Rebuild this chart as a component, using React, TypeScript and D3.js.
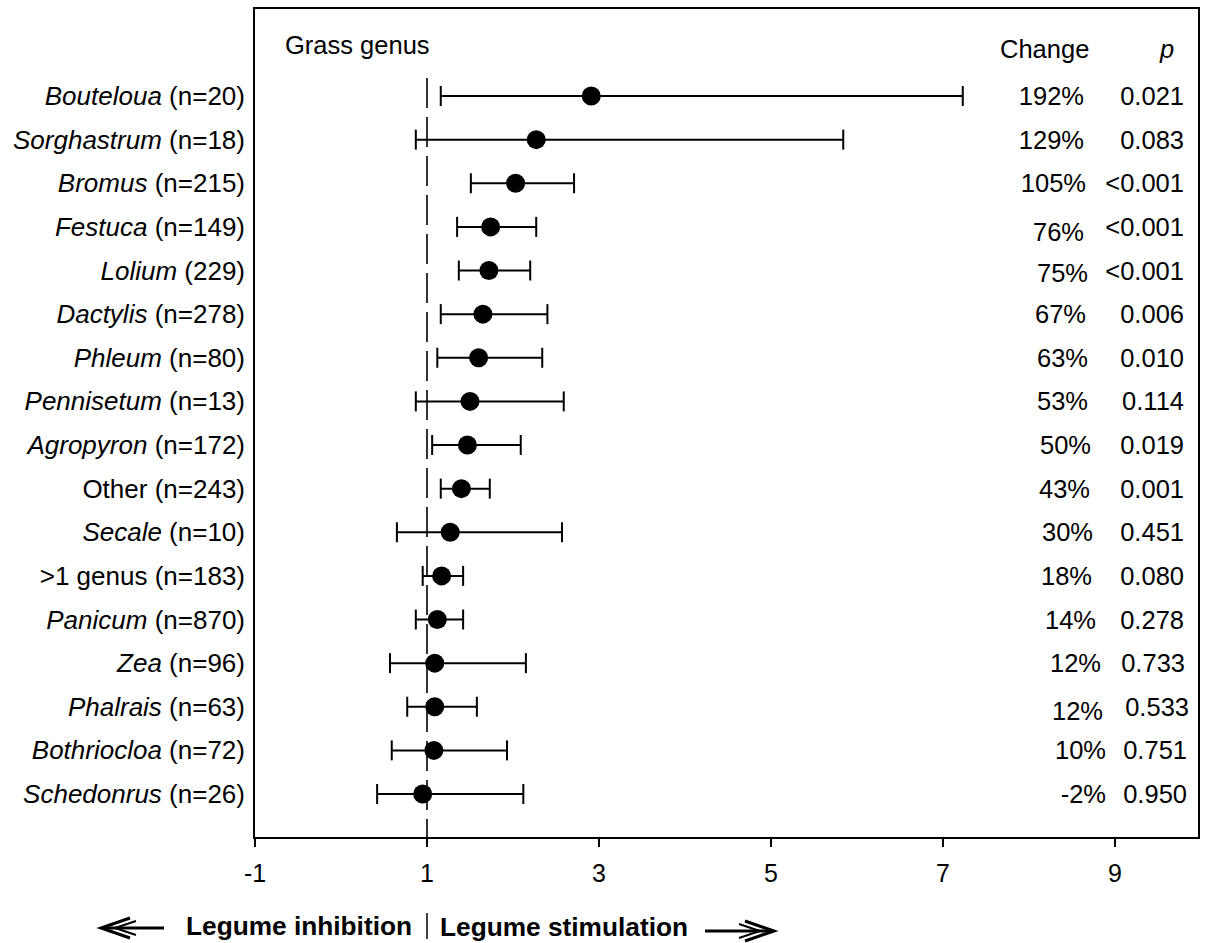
import React from "react";
import * as d3 from "d3";

const genera = ["Bouteloua", "Sorghastrum", "Bromus", "Festuca", "Lolium", "Dactylis", "Phleum", "Pennisetum", "Agropyron", "Other", "Secale", ">1 genus", "Panicum", "Zea", "Phalrais", "Bothriocloa", "Schedonrus"];
const italicName = [true, true, true, true, true, true, true, true, true, false, true, false, true, true, true, true, true];
const nLabels = ["(n=20)", "(n=18)", "(n=215)", "(n=149)", "(229)", "(n=278)", "(n=80)", "(n=13)", "(n=172)", "(n=243)", "(n=10)", "(n=183)", "(n=870)", "(n=96)", "(n=63)", "(n=72)", "(n=26)"];
const means = [2.91, 2.27, 2.03, 1.74, 1.72, 1.65, 1.60, 1.50, 1.47, 1.40, 1.27, 1.17, 1.12, 1.09, 1.09, 1.08, 0.95];
const lower = [1.16, 0.87, 1.51, 1.35, 1.37, 1.16, 1.12, 0.87, 1.06, 1.16, 0.65, 0.95, 0.87, 0.57, 0.77, 0.59, 0.42];
const upper = [7.23, 5.84, 2.71, 2.27, 2.20, 2.40, 2.34, 2.59, 2.09, 1.73, 2.57, 1.42, 1.42, 2.15, 1.58, 1.93, 2.12];
const changes = ["192%", "129%", "105%", "76%", "75%", "67%", "63%", "53%", "50%", "43%", "30%", "18%", "14%", "12%", "12%", "10%", "-2%"];
const pValues = ["0.021", "0.083", "<0.001", "<0.001", "<0.001", "0.006", "0.010", "0.114", "0.019", "0.001", "0.451", "0.080", "0.278", "0.733", "0.533", "0.751", "0.950"];
const xTicks = [-1, 1, 3, 5, 7, 9];

// text placement nudges for the right-hand columns (as typeset in the original)
const changeDx = [0, 0, 2, 0, 4, 2, 4, 4, 7, 6, 9, 8, 12, 17, 19, 22, 22];
const changeDy = [0, 0, 0, 5, 2, 0, 0, 0, 0, 0, 0, 0, 0, 0, 4, 0, 0];
const pDx = [0, 0, 0, 0, 0, 0, 0, 0, 0, 0, 0, 0, 0, 1, 5, 3, 3];

const W = 1210, H = 943;
const left = 254, right = 1199, top = 8, bottom = 838;
const font = "Liberation Sans, Arial, sans-serif";

export default function App() {
  const x = d3.scaleLinear().domain([-1, 10]).range([left + 1, left + 1 + 11 * 86]);
  const y = d3.scalePoint<string>().domain(genera).range([96, 794]);
  const fs = 25.5;

  return (
    <svg width={W} height={H} style={{ position: "absolute", left: 0, top: 0, background: "#fff" }} fontFamily={font}>
      <rect x={0} y={0} width={W} height={H} fill="#fff" />
      {/* reference line at 1 */}
      <line x1={x(1)} x2={x(1)} y1={78} y2={bottom} stroke="#000" strokeWidth={1.6} strokeDasharray="30,9" />
      {/* plot box */}
      <rect x={left} y={top} width={right - left} height={bottom - top} fill="none" stroke="#000" strokeWidth={2} />
      {/* axis ticks */}
      {xTicks.map((t) => (
        <g key={t}>
          <line x1={x(t)} x2={x(t)} y1={bottom} y2={bottom + 9} stroke="#000" strokeWidth={2} />
          <text x={x(t)} y={bottom + 44} textAnchor="middle" fontSize={25}>{t}</text>
        </g>
      ))}
      {/* headers */}
      <text x={285} y={54} fontSize={fs}>Grass genus</text>
      <text x={1000} y={58} fontSize={fs}>Change</text>
      <text x={1160} y={58} fontSize={fs} fontStyle="italic">p</text>
      {/* rows */}
      {genera.map((g, i) => {
        const cy = y(g)!;
        return (
          <g key={g}>
            <text x={245} y={cy + 9} textAnchor="end" fontSize={26}>
              <tspan fontStyle={italicName[i] ? "italic" : "normal"}>{g}</tspan>
              <tspan> {nLabels[i]}</tspan>
            </text>
            <line x1={x(lower[i])} x2={x(upper[i])} y1={cy} y2={cy} stroke="#000" strokeWidth={2} />
            <line x1={x(lower[i])} x2={x(lower[i])} y1={cy - 10} y2={cy + 10} stroke="#000" strokeWidth={2} />
            <line x1={x(upper[i])} x2={x(upper[i])} y1={cy - 10} y2={cy + 10} stroke="#000" strokeWidth={2} />
            <circle cx={x(means[i])} cy={cy} r={9.5} fill="#000" />
            <text x={1084 + changeDx[i]} y={cy + 9 + changeDy[i]} textAnchor="end" fontSize={fs}>{changes[i]}</text>
            <text x={1184 + pDx[i]} y={cy + 9} textAnchor="end" fontSize={fs}>{pValues[i]}</text>
          </g>
        );
      })}
      {/* bottom annotation */}
      <text x={186} y={935} fontSize={26} fontWeight="bold" textLength={226} lengthAdjust="spacingAndGlyphs">Legume inhibition</text>
      <line x1={x(1)} x2={x(1)} y1={913} y2={939} stroke="#000" strokeWidth={1.5} />
      <text x={440} y={936} fontSize={26} fontWeight="bold" textLength={248} lengthAdjust="spacingAndGlyphs">Legume stimulation</text>
      {/* left arrow */}
      <g stroke="#000" strokeWidth={3} fill="none" strokeLinejoin="miter">
        <line x1={103} x2={164} y1={928} y2={928} />
        <polyline points="130,918 101,928 130,938" />
        <polyline points="136,921 115,928 136,935" strokeWidth={2} />
      </g>
      {/* right arrow */}
      <g stroke="#000" strokeWidth={3} fill="none" strokeLinejoin="miter">
        <line x1={705} x2={772} y1={931} y2={931} />
        <polyline points="745,921 774,931 745,941" />
        <polyline points="739,924 760,931 739,938" strokeWidth={2} />
      </g>
    </svg>
  );
}
